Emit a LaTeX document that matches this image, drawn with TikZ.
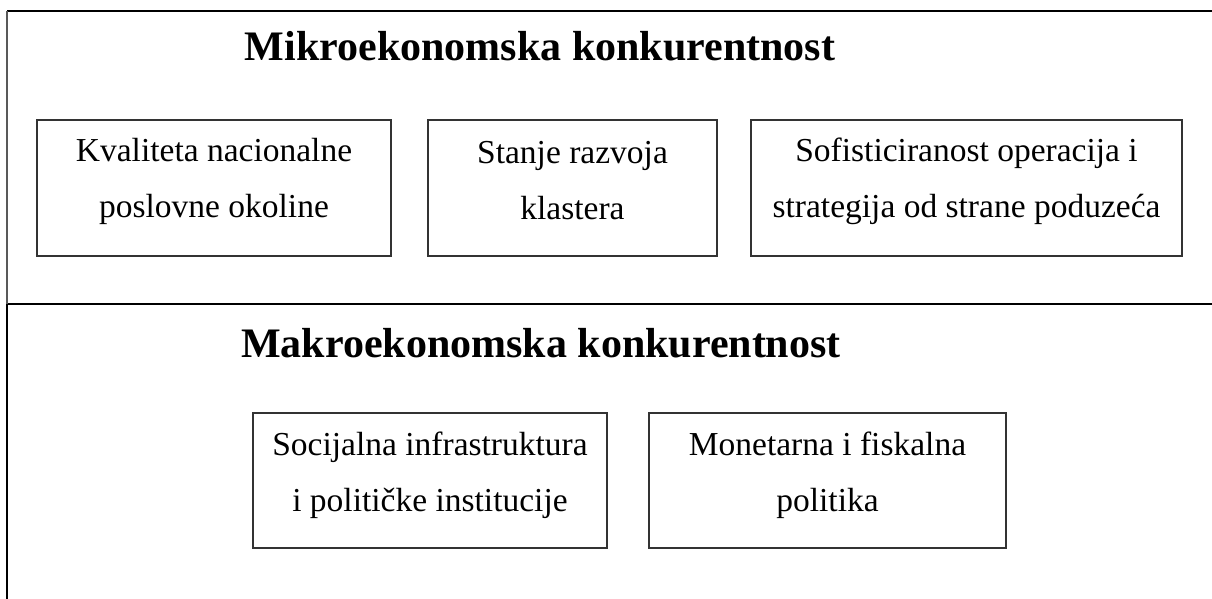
\documentclass[tikz,border=0pt]{standalone}
\usepackage{fontspec}
\setmainfont{Liberation Serif}
\begin{document}
\begin{tikzpicture}[x=1pt,y=-1pt,
  boxnode/.style={draw=black!80, line width=1.3pt, inner sep=0pt},
  boxtext/.style={align=center, inner sep=0pt, font=\fontsize{33.5}{56}\selectfont},
  titlenode/.style={font=\fontsize{42}{48}\selectfont\bfseries},
  frameline/.style={line width=2.2pt, black}]
\useasboundingbox (0,0) rectangle (1212,599);
% frame
\coordinate (tl) at (7,11);
\coordinate (tr) at (1212,11);
\coordinate (ml) at (7,304);
\coordinate (mr) at (1212,304);
\coordinate (bl) at (7,599);
\draw[frameline] (tl) -- (tr);
\draw[frameline] (ml) -- (mr);
\draw[line width=1.2pt, black!65] (tl) -- (ml);
\draw[frameline] (ml) -- (bl);
% titles
\node[titlenode] (mikro) at (540,46) {Mikroekonomska konkurentnost};
\node[titlenode] (makro) at (541,343) {Makroekonomska konkurentnost};
% boxes
\node[boxnode, minimum width=354pt, minimum height=136pt] (b1) at (214,188) {};
\node[boxnode, minimum width=289pt, minimum height=136pt] (b2) at (572.5,188) {};
\node[boxnode, minimum width=431pt, minimum height=136pt] (b3) at (966.5,188) {};
\node[boxnode, minimum width=354pt, minimum height=135pt] (b4) at (430,480.5) {};
\node[boxnode, minimum width=357pt, minimum height=135pt] (b5) at (827.5,480.5) {};
% box texts
\node[boxtext] (t1) at ([yshift=7pt]b1.center) {Kvaliteta nacionalne\\poslovne okoline};
\node[boxtext] (t2) at ([yshift=7pt]b2.center) {Stanje razvoja\\klastera};
\node[boxtext] (t3) at ([yshift=7pt]b3.center) {Sofisticiranost operacija i\\strategija od strane poduzeća};
\node[boxtext] (t4) at ([yshift=5pt]b4.center) {Socijalna infrastruktura\\i političke institucije};
\node[boxtext] (t5) at ([yshift=5pt]b5.center) {Monetarna i fiskalna\\politika};
\end{tikzpicture}
\end{document}
